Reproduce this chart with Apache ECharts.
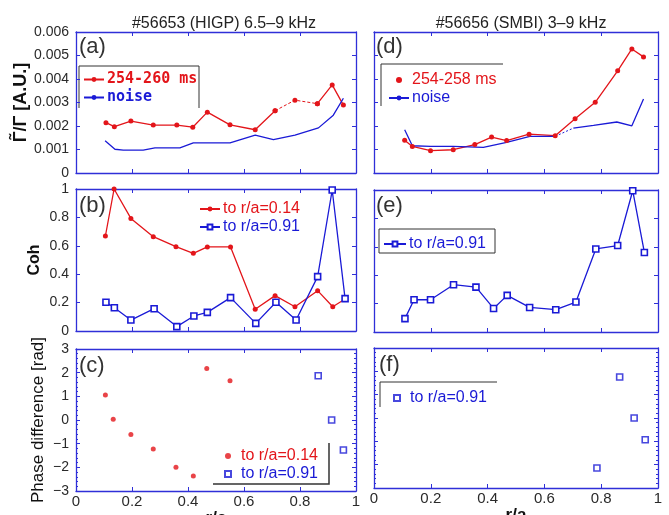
<!DOCTYPE html>
<html><head><meta charset="utf-8">
<script src="https://cdn.jsdelivr.net/npm/echarts@6/dist/echarts.min.js"></script>
<style>html,body{margin:0;padding:0;background:#fff}#c{width:669px;height:515px}</style>
</head><body><div id="c"></div>
<script>
// ---------- data ----------
const titles = ['#56653 (HIGP) 6.5\u20139 kHz', '#56656 (SMBI) 3\u20139 kHz'];
const panelLabels = ['(a)', '(b)', '(c)', '(d)', '(e)', '(f)'];
const xTicks = [0, 0.2, 0.4, 0.6, 0.8, 1];

// (a) HIGP fluctuation
const aSigR = [0.107,0.137,0.196,0.276,0.36,0.417,0.469,0.55,0.64,0.711,0.782,0.862,0.915,0.955];
const aSig  = [0.00214,0.00197,0.00221,0.00204,0.00204,0.00195,0.00259,0.00205,0.00184,0.00265,0.0031,0.00295,0.00375,0.00289];
const aNoiseR = [0.104,0.139,0.169,0.24,0.282,0.371,0.419,0.55,0.64,0.705,0.782,0.866,0.919,0.955];
const aNoise  = [0.00137,0.00101,0.00097,0.00097,0.00107,0.00107,0.00128,0.00128,0.00161,0.00142,0.00161,0.00192,0.00246,0.00318];
// (b) HIGP coherence
const bR014 = [0.105,0.136,0.196,0.276,0.357,0.419,0.469,0.552,0.64,0.711,0.782,0.863,0.917,0.961];
const bCoh014 = [0.669,1.0,0.793,0.664,0.594,0.547,0.592,0.592,0.153,0.249,0.171,0.284,0.171,0.225];
const bR091 = [0.107,0.137,0.196,0.279,0.36,0.421,0.469,0.552,0.642,0.714,0.786,0.863,0.915,0.961];
const bCoh091 = [0.202,0.164,0.077,0.157,0.031,0.106,0.131,0.235,0.054,0.202,0.077,0.383,0.993,0.228];
// (c) HIGP phase
const cR014 = [0.105,0.133,0.196,0.276,0.357,0.419,0.467,0.55];
const cPh014 = [1.06,0.03,-0.61,-1.23,-2.0,-2.37,2.18,1.66];
const cR091 = [0.865,0.913,0.955];
const cPh091 = [1.87,0.0,-1.27];
// (d) SMBI fluctuation
const dSigR = [0.108,0.135,0.199,0.279,0.355,0.414,0.467,0.546,0.638,0.708,0.779,0.858,0.908,0.949];
const dSig  = [0.00139,0.00113,0.00095,0.00099,0.00121,0.00153,0.00138,0.00165,0.00159,0.00231,0.00301,0.00435,0.00528,0.00494];
const dNoiseR = [0.108,0.135,0.199,0.279,0.385,0.467,0.549,0.638,0.702,0.773,0.855,0.908,0.949];
const dNoise  = [0.00184,0.00116,0.00113,0.00113,0.00109,0.0013,0.00156,0.00156,0.00191,0.00203,0.00217,0.00201,0.00315];
// (e) SMBI coherence
const eR091 = [0.109,0.141,0.199,0.28,0.359,0.421,0.469,0.548,0.64,0.711,0.781,0.858,0.911,0.952];
const eCoh091 = [0.094,0.227,0.227,0.333,0.316,0.166,0.258,0.173,0.157,0.211,0.585,0.609,0.995,0.56];
// (f) SMBI phase
const fR091 = [0.785,0.865,0.916,0.955];
const fPh091 = [-2.14,1.76,0.0,-0.93];

// ---------- styling ----------
const RED = '#e3151a', BLUE = '#1a1ad6', FRAME = '#2f2fd8', TXT = '#2a2a2a';
const FONT = 'Liberation Sans';
const pairs = (xs, ys, a, b) => xs.map((x, i) => [x, ys[i]]).slice(a === undefined ? 0 : a, b === undefined ? xs.length : b + 1);

const grids = [
  {left: 76, top: 32, width: 280, height: 141},
  {left: 76, top: 189, width: 280, height: 142},
  {left: 76, top: 349, width: 280, height: 142},
  {left: 374, top: 32, width: 284, height: 141},
  {left: 374, top: 190, width: 284, height: 142},
  {left: 374, top: 348, width: 284, height: 140}
].map(g => Object.assign(g, {containLabel: false, outerBoundsMode: 'none'}));

const yRanges = [[0, 0.006, 0.001], [0, 1, 0.2], [-3, 3, 1]];
const yNames = ['\u0393\u0303/\u0393 [A.U.]', 'Coh', 'Phase difference [rad]'];
const yNameGaps = [46, 33, 29];
const fmtMinus = v => String(v).replace('-', '\u2212');

const xAxis = [], yAxis = [];
for (let g = 0; g < 6; g++) {
  const row = g % 3, leftCol = g < 3;
  const line = {show: true, onZero: false, lineStyle: {color: FRAME, width: 1.3}};
  const tick = {show: true, inside: true, length: 4, lineStyle: {color: FRAME}};
  xAxis.push({
    type: 'value', gridIndex: g, position: 'bottom', min: 0, max: 1, interval: 0.2,
    axisLine: line, axisTick: tick, splitLine: {show: false},
    axisLabel: {show: row === 2, color: TXT, fontFamily: FONT, fontSize: 15, margin: 3, formatter: v => String(v)},
    name: row === 2 ? 'r/a' : '', nameLocation: 'middle', nameGap: 15,
    nameTextStyle: {color: '#111', fontFamily: FONT, fontSize: 17, fontWeight: 'bold'}
  });
  xAxis.push({
    type: 'value', gridIndex: g, position: 'top', min: 0, max: 1, interval: 0.2,
    axisLine: line, axisTick: tick, splitLine: {show: false}, axisLabel: {show: false}
  });
  const [mn, mx, iv] = yRanges[row];
  const minor = row === 2 ? {show: true, splitNumber: 5, length: 2, lineStyle: {color: FRAME}} : {show: false};
  yAxis.push({
    type: 'value', gridIndex: g, position: 'left', min: mn, max: mx, interval: iv,
    axisLine: line, axisTick: tick, minorTick: minor, splitLine: {show: false}, minorSplitLine: {show: false},
    axisLabel: {show: leftCol, color: TXT, fontFamily: FONT, fontSize: 14, margin: 7, formatter: fmtMinus},
    name: leftCol ? yNames[row] : '', nameLocation: 'middle', nameGap: yNameGaps[row], nameRotate: 90,
    nameTextStyle: {color: '#111', fontFamily: FONT, fontSize: row === 0 ? 18 : (row === 2 ? 17 : 16), fontWeight: row === 2 ? 'normal' : 'bold'}
  });
  yAxis.push({
    type: 'value', gridIndex: g, position: 'right', min: mn, max: mx, interval: iv,
    axisLine: line, axisTick: tick, minorTick: minor, splitLine: {show: false}, minorSplitLine: {show: false},
    axisLabel: {show: false}
  });
}
const ax = g => ({xAxisIndex: 2 * g, yAxisIndex: 2 * g});

const hollowSq = c => ({color: '#fff', borderColor: c, borderWidth: 1.6});
const lineS = (name, g, data, color, opts) => Object.assign({
  type: 'line', name, data, ...ax(g), animation: false, silent: true,
  lineStyle: {color, width: 1.3}, itemStyle: {color}, symbol: 'none'
}, opts || {});

const series = [
  // (a)
  lineS('aSig', 0, pairs(aSigR, aSig, 0, 9), RED, {symbol: 'circle', symbolSize: 5, showAllSymbol: true}),
  lineS('aSigDash', 0, pairs(aSigR, aSig, 9, 11), RED, {symbol: 'circle', symbolSize: 5, lineStyle: {color: RED, width: 1, type: [3, 2]}}),
  lineS('aSigEnd', 0, pairs(aSigR, aSig, 11, 13), RED, {symbol: 'circle', symbolSize: 5}),
  lineS('aNoise', 0, pairs(aNoiseR, aNoise), BLUE),
  // (b)
  lineS('b014', 1, pairs(bR014, bCoh014), RED, {symbol: 'circle', symbolSize: 5}),
  lineS('b091', 1, pairs(bR091, bCoh091), BLUE, {symbol: 'rect', symbolSize: 6, itemStyle: hollowSq(BLUE)}),
  // (c)
  {type: 'scatter', name: 'c014', data: pairs(cR014, cPh014), ...ax(2), symbol: 'circle', symbolSize: 5, itemStyle: {color: RED}, animation: false, silent: true},
  {type: 'scatter', name: 'c091', data: pairs(cR091, cPh091), ...ax(2), symbol: 'rect', symbolSize: 6, itemStyle: hollowSq(BLUE), animation: false, silent: true},
  // (d)
  lineS('dSig', 3, pairs(dSigR, dSig), RED, {symbol: 'circle', symbolSize: 5}),
  lineS('dNoise', 3, pairs(dNoiseR, dNoise, 0, 7), BLUE),
  lineS('dNoiseDot', 3, pairs(dNoiseR, dNoise, 7, 8), BLUE, {lineStyle: {color: BLUE, width: 1, type: [2, 2]}}),
  lineS('dNoiseEnd', 3, pairs(dNoiseR, dNoise, 8), BLUE),
  // (e)
  lineS('e091', 4, pairs(eR091, eCoh091), BLUE, {symbol: 'rect', symbolSize: 6, itemStyle: hollowSq(BLUE)}),
  // (f)
  {type: 'scatter', name: 'f091', data: pairs(fR091, fPh091), ...ax(5), symbol: 'rect', symbolSize: 6, itemStyle: hollowSq(BLUE), animation: false, silent: true}
];

const legendText = {
  aSig: '254-260 ms', aNoise: 'noise', b014: 'to r/a=0.14', b091: 'to r/a=0.91',
  c014: 'to r/a=0.14', c091: 'to r/a=0.91', dSig: '254-258 ms', dNoise: 'noise',
  e091: 'to r/a=0.91', f091: 'to r/a=0.91'
};
const lg = (items, pos, opts) => Object.assign({
  orient: 'vertical', left: pos[0], top: pos[1], itemGap: 2, itemWidth: 20, itemHeight: 6,
  selectedMode: false, padding: 0, formatter: n => legendText[n],
  textStyle: {fontFamily: FONT, fontSize: 16, padding: [0, 0, 0, -2]},
  data: items.map(([name, color, icon]) => Object.assign({name, textStyle: {color}}, icon ? {icon} : {}))
}, opts || {});
const MONO = {fontFamily: 'DejaVu Sans Mono', fontSize: 15, fontWeight: 'bold'};

const legend = [
  lg([['aSig', RED], ['aNoise', BLUE]], [83, 72], {itemGap: 3, textStyle: Object.assign({}, MONO, {padding: [0, 0, 0, -2]})}),
  lg([['b014', RED], ['b091', BLUE]], [199, 201]),
  lg([['c014', RED], ['c091', BLUE]], [224, 448], {itemWidth: 6, itemHeight: 6, itemGap: 2, textStyle: {fontFamily: FONT, fontSize: 16, padding: [0, 0, 0, 5]}}),
  lg([['dSig', RED, 'circle'], ['dNoise', BLUE]], [388, 72]),
  lg([['e091', BLUE]], [383, 236], {itemWidth: 22}),
  lg([['f091', BLUE]], [393, 390], {itemWidth: 6, itemHeight: 6, textStyle: {fontFamily: FONT, fontSize: 16, padding: [0, 0, 0, 5]}})
];

// panel letters and legend frames (decoration)
const labelPos = [[79, 36], [79, 195], [79, 355], [376, 36], [376, 195], [379, 354]];
const graphic = panelLabels.map((t, i) => ({
  type: 'text', left: labelPos[i][0], top: labelPos[i][1], silent: true,
  style: {text: t, fill: '#333', font: '22px "Liberation Sans"'}
}));
const pl = (pts, w) => ({type: 'polyline', silent: true, shape: {points: pts}, style: {stroke: '#333', lineWidth: w || 1, fill: null}});
graphic.push(
  pl([[79, 108], [79, 66], [199, 66], [199, 108]]),
  pl([[213, 484], [329, 484], [329, 443]], 1.5),
  pl([[381, 106], [381, 64], [503, 64]]),
  pl([[379, 229], [495, 229], [495, 253], [379, 253], [379, 229]]),
  pl([[380, 407], [380, 382], [497, 382]])
);

const title = [
  {text: titles[0], left: 219, top: 11, textAlign: 'center', textStyle: {fontFamily: FONT, fontSize: 16, fontWeight: 'normal', color: '#222'}},
  {text: titles[1], left: 516, top: 11, textAlign: 'center', textStyle: {fontFamily: FONT, fontSize: 16, fontWeight: 'normal', color: '#222'}}
];

const chart = echarts.init(document.getElementById('c'), null, {renderer: 'canvas'});
chart.setOption({animation: false, backgroundColor: '#fff', title, grid: grids, xAxis, yAxis, series, legend, graphic});
</script>
</body></html>
